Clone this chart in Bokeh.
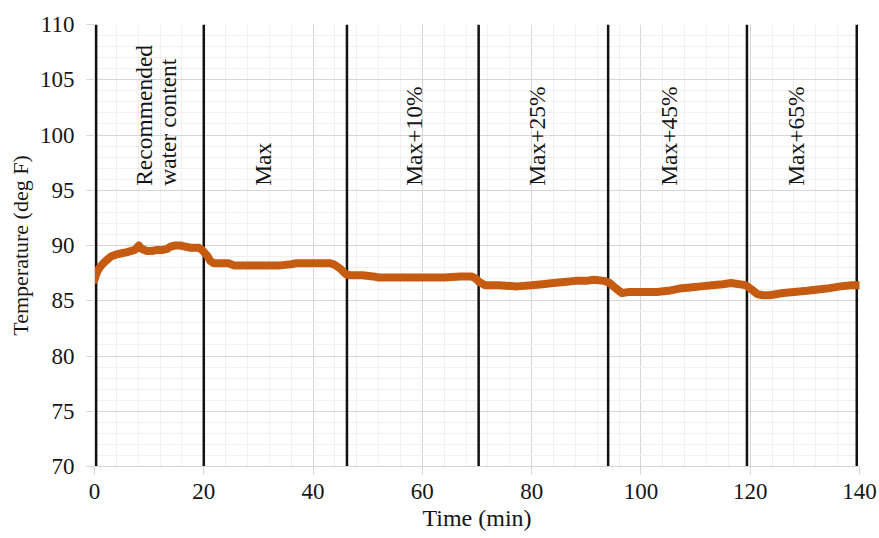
from bokeh.plotting import figure
from bokeh.models import ColumnDataSource, FixedTicker, Range1d
from bokeh.core.properties import value
from bokeh.embed import file_html
from bokeh.resources import INLINE
import math

# ---- data ----
time_min = [0, 0.3, 0.7, 1.1, 1.6, 2.3, 3.0, 4.1, 5.0, 6.0, 6.6, 7.4, 8.1, 8.6, 9.6,
            10.5, 11.5, 12.5, 13.3, 13.9, 14.8, 15.7, 16.6, 17.6, 18.5, 19.1, 19.7,
            20.2, 20.6, 21.2, 21.8, 23.0, 24.5, 25.5, 28.0, 31.0, 34.0, 36.0, 37.0,
            40.0, 43.0, 43.8, 45.0, 46.0, 46.8, 49.0, 51.0, 52.0, 55.0, 58.0, 61.0,
            64.0, 67.0, 69.0, 69.8, 70.4, 71.5, 74.0, 77.3, 80.0, 82.0, 84.0, 86.0,
            88.0, 90.0, 91.4, 93.2, 94.3, 95.2, 96.5, 98.0, 100.0, 102.9, 105.0,
            107.0, 109.0, 111.0, 113.0, 115.0, 116.5, 118.0, 119.2, 120.3, 121.3,
            122.3, 123.6, 126.0, 128.0, 130.4, 132.0, 134.0, 136.5, 138.5, 140.0]
temperature_f = [86.9, 87.4, 87.8, 88.1, 88.4, 88.7, 89.0, 89.2, 89.3, 89.4, 89.5, 89.6,
                 90.0, 89.7, 89.5, 89.5, 89.6, 89.6, 89.7, 89.9, 90.0, 90.0, 89.9, 89.8,
                 89.8, 89.8, 89.6, 89.3, 89.1, 88.6, 88.4, 88.4, 88.4, 88.2, 88.2, 88.2,
                 88.2, 88.3, 88.4, 88.4, 88.4, 88.3, 87.9, 87.4, 87.3, 87.3, 87.2, 87.1,
                 87.1, 87.1, 87.1, 87.1, 87.2, 87.2, 87.0, 86.7, 86.4, 86.4, 86.3, 86.4,
                 86.5, 86.6, 86.7, 86.8, 86.8, 86.9, 86.8, 86.6, 86.2, 85.7, 85.8, 85.8,
                 85.8, 85.9, 86.1, 86.2, 86.3, 86.4, 86.5, 86.6, 86.5, 86.4, 86.0, 85.6,
                 85.5, 85.5, 85.7, 85.8, 85.9, 86.0, 86.1, 86.3, 86.4, 86.4]

phase_bounds = [0.3, 20.0, 46.2, 70.3, 94.0, 119.4, 139.5]
phase_labels = ["Recommended\nwater content", "Max", "Max+10%", "Max+25%",
                "Max+45%", "Max+65%"]
phase_label_x = [11.2, 30.8, 58.4, 81.0, 105.2, 128.3]
phase_label_y = [95.4] * len(phase_labels)

x_ticks = [0, 20, 40, 60, 80, 100, 120, 140]
y_ticks = [70, 75, 80, 85, 90, 95, 100, 105, 110]

FONT = "'Liberation Serif'"

p = figure(width=879, height=538, output_backend="svg", toolbar_location=None,
           x_range=Range1d(0, 140), y_range=Range1d(70, 110),
           min_border_left=94, min_border_right=20, min_border_top=24,
           min_border_bottom=72)
p.outline_line_color = None

# grids
p.xaxis.ticker = FixedTicker(ticks=x_ticks, minor_ticks=list(range(0, 141, 4)))
p.yaxis.ticker = FixedTicker(ticks=y_ticks, minor_ticks=list(range(70, 111, 1)))
for g in (p.xgrid, p.ygrid):
    g.grid_line_color = "#d6d6d6"
    g.grid_line_width = 1
    g.minor_grid_line_color = "#f0f0f0"
    g.minor_grid_line_width = 1

# axes
for ax in (p.xaxis, p.yaxis):
    ax.axis_line_color = "#d6d6d6"
    ax.major_tick_line_color = "#d6d6d6"
    ax.minor_tick_line_color = None
    ax.major_tick_in = 0
    ax.major_tick_out = 8
    ax.major_label_text_font = FONT
    ax.major_label_text_font_size = "23px"
    ax.major_label_text_color = "#151515"
    ax.axis_label_text_font = FONT
    ax.axis_label_text_font_style = "normal"
    ax.axis_label_text_color = "#151515"
p.xaxis.axis_label_text_font_size = "24px"
p.yaxis.axis_label_text_font_size = "22px"
p.xaxis.major_label_standoff = 9
p.yaxis.major_label_standoff = 12
p.xaxis.axis_label = "Time (min)"
p.yaxis.axis_label = "Temperature (deg F)"
p.xaxis.axis_label_standoff = 3
p.yaxis.axis_label_standoff = 4

# phase boundaries
bsrc = ColumnDataSource(dict(x=phase_bounds, y0=[70] * len(phase_bounds),
                             y1=[110] * len(phase_bounds)))
p.segment(x0="x", x1="x", y0="y0", y1="y1", source=bsrc,
          line_color="#111111", line_width=2.5)

# temperature trace
p.line(time_min, temperature_f, line_color="#C55A11", line_width=8,
       line_join="round", line_cap="round")

# phase labels
lsrc = ColumnDataSource(dict(x=phase_label_x, y=phase_label_y, t=phase_labels))
p.text(x="x", y="y", text="t", source=lsrc, angle=math.pi / 2,
       text_align="left", text_baseline="middle",
       text_font=value(FONT), text_font_size="23.5px", text_color="#151515",
       text_line_height=0.92)

open("out.html", "w").write(file_html(p, INLINE))
